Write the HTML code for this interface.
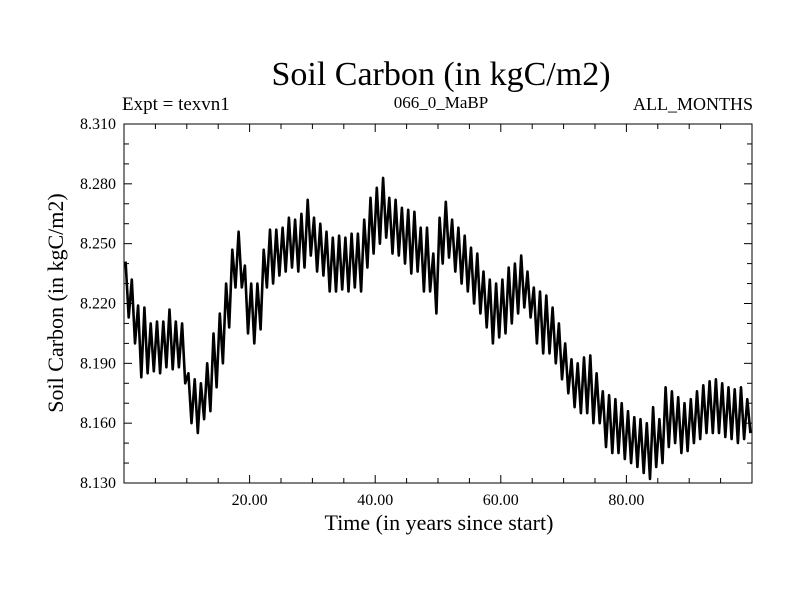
<!DOCTYPE html>
<html><head><meta charset="utf-8"><style>
body{margin:0;background:#fff;}
svg text{font-family:"Liberation Serif",serif;fill:#000;}
</style></head><body>
<svg id="c" width="800" height="600" xmlns="http://www.w3.org/2000/svg">
<text x="441" y="85" font-size="34" text-anchor="middle">Soil Carbon (in kgC/m2)</text>
<text x="122" y="110" font-size="19">Expt = texvn1</text>
<text x="441" y="108" font-size="17" text-anchor="middle">066_0_MaBP</text>
<text x="753" y="110" font-size="18" text-anchor="end">ALL_MONTHS</text>
<text x="439" y="530" font-size="22" text-anchor="middle">Time (in years since start)</text>
<text transform="translate(63,303) rotate(-90)" font-size="22" text-anchor="middle">Soil Carbon (in kgC/m2)</text>
<g id="axes"></g>
<path id="series" fill="none" stroke="#000" stroke-width="2.6" stroke-linejoin="round"/>
<rect x="124" y="124" width="628" height="359" fill="none" stroke="#000" stroke-width="1"/>
</svg>
<script>
const yearPeaks=[8.241,8.232,8.219,8.218,8.210,8.211,8.211,8.217,8.211,8.210,8.185,8.182,8.180,8.190,8.205,8.215,8.230,8.247,8.256,8.239,
8.230,8.230,8.247,8.257,8.257,8.258,8.263,8.262,8.265,8.272,8.263,8.260,8.256,8.253,8.254,8.253,8.255,8.255,8.262,8.273,
8.278,8.283,8.273,8.272,8.268,8.267,8.266,8.258,8.258,8.245,8.263,8.271,8.262,8.258,8.254,8.248,8.245,8.236,8.232,8.230,
8.232,8.238,8.240,8.244,8.236,8.228,8.226,8.224,8.218,8.210,8.200,8.192,8.190,8.193,8.194,8.185,8.176,8.174,8.172,8.170,
8.166,8.163,8.162,8.160,8.168,8.162,8.178,8.176,8.173,8.170,8.172,8.176,8.179,8.181,8.182,8.180,8.178,8.177,8.178,8.172];
const yearTroughs=[8.213,8.200,8.183,8.185,8.186,8.185,8.188,8.187,8.188,8.180,8.160,8.155,8.162,8.166,8.178,8.190,8.208,8.228,8.228,8.205,
8.200,8.207,8.228,8.230,8.234,8.236,8.238,8.236,8.238,8.244,8.236,8.234,8.226,8.226,8.227,8.226,8.228,8.226,8.238,8.245,
8.250,8.253,8.245,8.244,8.240,8.235,8.236,8.226,8.226,8.215,8.240,8.243,8.236,8.230,8.226,8.220,8.215,8.208,8.200,8.203,
8.205,8.210,8.215,8.218,8.213,8.200,8.195,8.195,8.190,8.182,8.175,8.168,8.165,8.165,8.160,8.160,8.148,8.145,8.145,8.142,
8.140,8.138,8.135,8.132,8.138,8.140,8.148,8.150,8.145,8.146,8.150,8.152,8.155,8.155,8.155,8.153,8.152,8.150,8.152,8.155];
const xTickLabels=["20.00","40.00","60.00","80.00"];
const xTickValues=[20,40,60,80];
const yTickLabels=["8.130","8.160","8.190","8.220","8.250","8.280","8.310"];
const yTickValues=[8.13,8.16,8.19,8.22,8.25,8.28,8.31];

const L=124,R=752,T=124,B=483,X0=0,X1=100,Y0=8.13,Y1=8.31;
const sx=v=>L+(v-X0)/(X1-X0)*(R-L);
const sy=v=>B-(v-Y0)/(Y1-Y0)*(B-T);
const NS="http://www.w3.org/2000/svg";
const axes=document.getElementById('axes');
function line(x1,y1,x2,y2,name){const l=document.createElementNS(NS,'line');
l.setAttribute('x1',x1);l.setAttribute('y1',y1);l.setAttribute('x2',x2);l.setAttribute('y2',y2);
l.setAttribute('stroke','#000');l.setAttribute('stroke-width','1');


axes.appendChild(l);}
function text(x,y,s,anchor,name){const t=document.createElementNS(NS,'text');
t.setAttribute('x',x);t.setAttribute('y',y);t.setAttribute('font-size','16');t.setAttribute('text-anchor',anchor);t.textContent=s;


axes.appendChild(t);}
for(let v=5;v<100;v+=5){const major=v%20===0;const len=major?8:5;const x=sx(v);
line(x,B,x,B-len,'x-tick');line(x,T,x,T+len,'x-tick-top');}
xTickValues.forEach((v,i)=>text(sx(v),B+22,xTickLabels[i],'middle','x-tick-label'));
for(let k=0;k<=18;k++){const v=Y0+k*0.01;const major=k%3===0;const len=major?8:5;const y=sy(v);
line(L,y,L+len,y,'y-tick');line(R,y,R-len,y,'y-tick-right');}
yTickValues.forEach((v,i)=>text(L-8,sy(v)+5,yTickLabels[i],'end','y-tick-label'));
let d='';
for(let i=0;i<yearPeaks.length;i++){
 const p1=sx(i+0.25),p2=sx(i+0.75);
 d+=(i===0?'M':'L')+p1.toFixed(1)+','+sy(yearPeaks[i]).toFixed(1)+'L'+p2.toFixed(1)+','+sy(yearTroughs[i]).toFixed(1);
}
document.getElementById('series').setAttribute('d',d);
</script>
</body></html>
